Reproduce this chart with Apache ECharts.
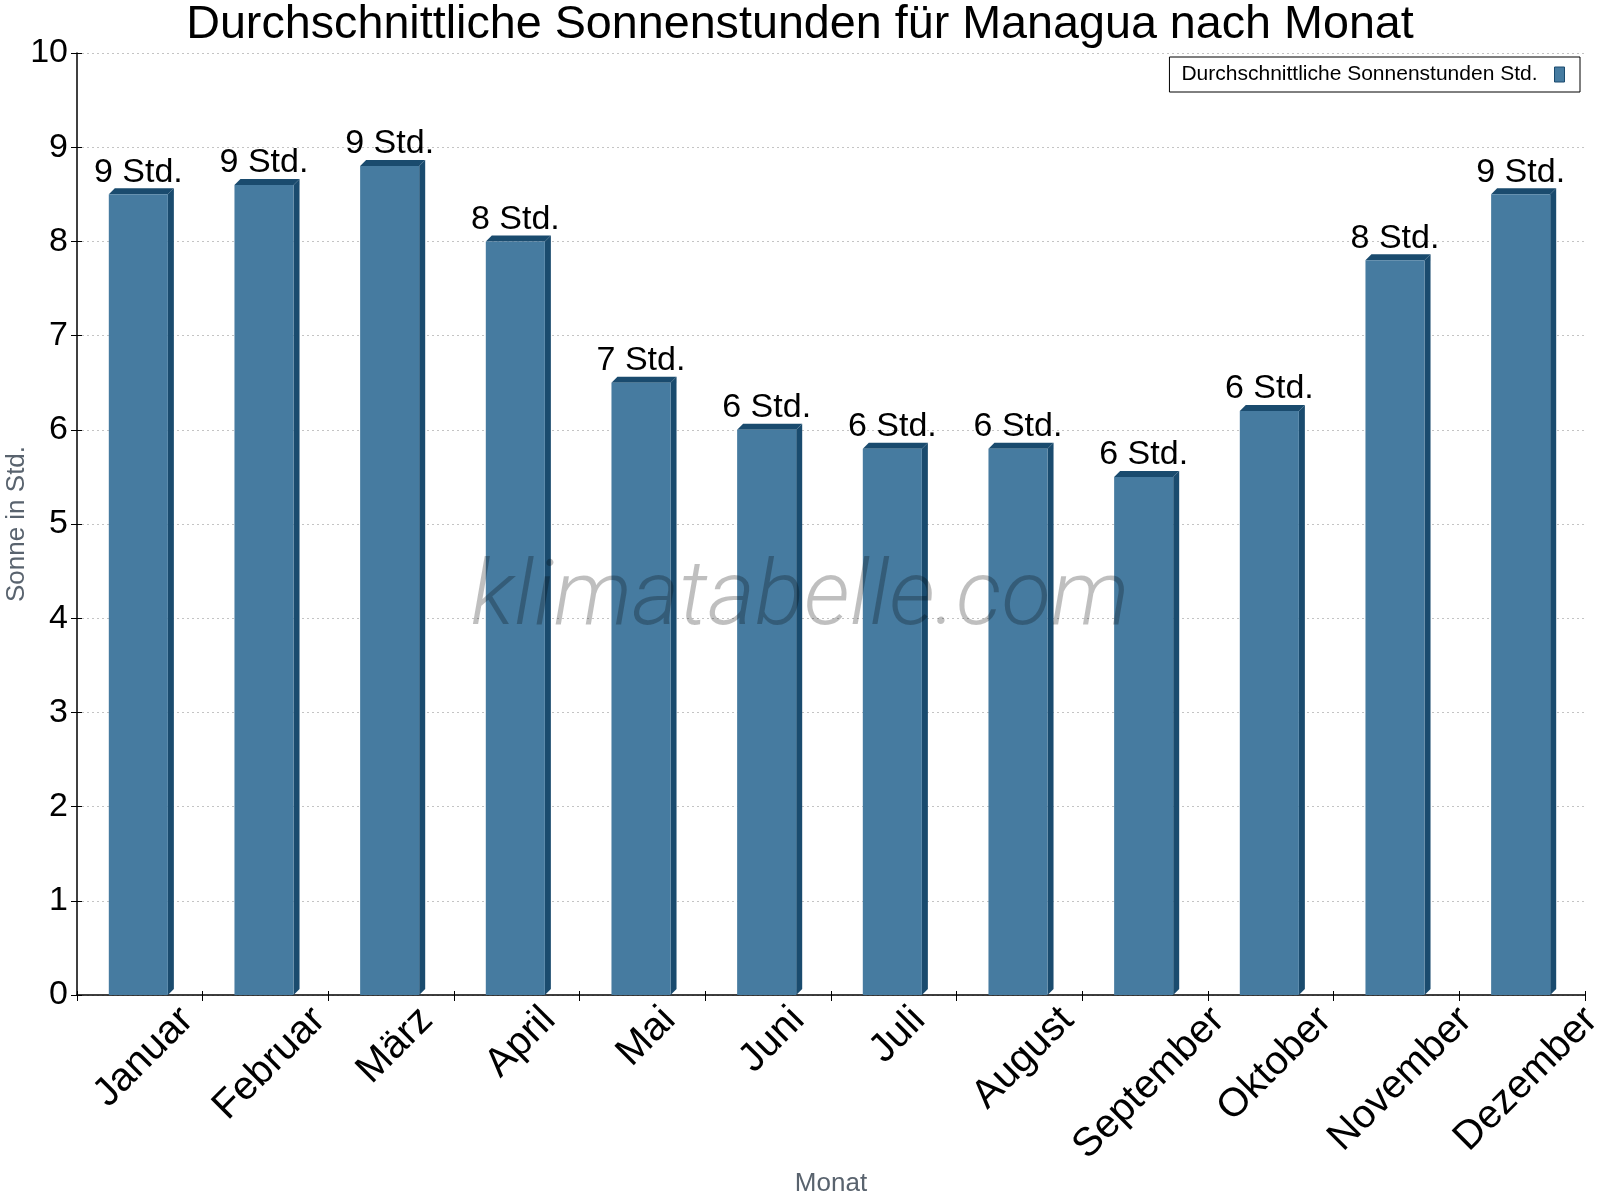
<!DOCTYPE html>
<html>
<head>
<meta charset="utf-8">
<script src="https://cdn.jsdelivr.net/npm/echarts@6/dist/echarts.min.js"></script>
<style>html,body{margin:0;padding:0;background:#fff}#c{width:1600px;height:1200px}</style>
</head>
<body>
<div id="c"></div>
<script>
var categories = ['Januar','Februar','März','April','Mai','Juni','Juli','August','September','Oktober','November','Dezember'];
var sunHours = [8.5, 8.6, 8.8, 8.0, 6.5, 6.0, 5.8, 5.8, 5.5, 6.2, 7.8, 8.5];
var yTicks = [0,1,2,3,4,5,6,7,8,9,10];
var seriesName = 'Durchschnittliche Sonnenstunden Std.';

var FONT = '"Liberation Sans", Arial, sans-serif';
var FRONT = '#467ba0', SIDE = '#1a4b6e', TOP = '#1a4b6e';
var XLABEL_FONT = '40px ' + FONT;

var measureCtx = document.createElement('canvas').getContext('2d');
function textWidth(t, font){ measureCtx.font = font; return measureCtx.measureText(t).width; }

var yMin = yTicks[0], yMax = yTicks[yTicks.length-1];

var chart = echarts.init(document.getElementById('c'), null, {renderer:'canvas'});
chart.setOption({
  animation: false,
  backgroundColor: '#fff',
  title: {
    text: 'Durchschnittliche Sonnenstunden für Managua nach Monat',
    left: 'center', top: -3,
    textStyle: {fontFamily: FONT, fontSize: 46.7, fontWeight: 'normal', color: '#000'}
  },
  legend: {
    right: 20, top: 57,
    data: [{name: seriesName, icon: 'rect'}],
    align: 'right',
    itemWidth: 10, itemHeight: 15,
    borderColor: '#000', borderWidth: 1, borderRadius: 0,
    padding: [7, 15, 7, 12],
    textStyle: {fontFamily: FONT, fontSize: 21, color: '#000', padding: [0, 12, 0, 0]},
    itemStyle: {color: FRONT, borderColor: '#1a4b6e', borderWidth: 1}
  },
  grid: {left: 77, right: 15, top: 53, bottom: 205, containLabel: false, outerBoundsMode: 'none'},
  xAxis: [{
    type: 'category', data: categories,
    name: 'Monat', nameLocation: 'middle', nameGap: 176, nameMoveOverlap: false,
    nameTextStyle: {fontFamily: FONT, fontSize: 26, color: '#59636e'},
    axisLine: {lineStyle: {color: '#000', width: 1.5}},
    axisTick: {show: true, length: 6, lineStyle: {color: '#000'}},
    axisLabel: {show: false},
    splitLine: {show: false}
  }, {
    type: 'category', data: categories, position: 'bottom',
    axisLine: {show: false},
    axisTick: {show: true, inside: true, length: 4, lineStyle: {color: '#000'}},
    axisLabel: {show: false},
    splitLine: {show: false}
  }],
  yAxis: [{
    type: 'value', min: yMin, max: yMax, interval: 1,
    name: 'Sonne in Std.', nameLocation: 'middle', nameGap: 47, nameRotate: 90, nameMoveOverlap: false,
    nameTextStyle: {fontFamily: FONT, fontSize: 26, color: '#59636e'},
    axisLine: {show: true, lineStyle: {color: '#000', width: 1.5}},
    axisTick: {show: true, length: 6, lineStyle: {color: '#000'}},
    axisLabel: {fontFamily: FONT, fontSize: 34, color: '#000', margin: 9},
    splitLine: {show: true, lineStyle: {color: '#c4c4c4', type: [2, 3], width: 1}}
  }, {
    type: 'value', min: yMin, max: yMax, interval: 1, position: 'left',
    axisLine: {show: false},
    axisTick: {show: true, inside: true, length: 5, lineStyle: {color: '#000'}},
    axisLabel: {show: false},
    splitLine: {show: false}
  }],
  graphic: [{
    type: 'text', left: 'center', top: 556, z: 100,
    style: {text: 'klimatabelle.com', font: 'italic 300 91px Roboto, ' + FONT, fill: 'rgba(0,0,0,0.25)'}
  }],
  series: [{
    name: seriesName,
    type: 'custom',
    clip: false,
    itemStyle: {color: FRONT},
    data: sunHours.map(function(v, i){ return [i, v]; }),
    encode: {x: 0, y: 1},
    renderItem: function(params, api){
      var idx = api.value(0), val = api.value(1);
      var top = api.coord([idx, val]);
      var base = api.coord([idx, 0]);
      var cw = api.size([1, 0])[0];
      var bw = cw * 0.47;
      var d = 6;
      var x0 = top[0] - bw/2 - 1.5, x1 = x0 + bw;
      var yt = top[1], yb = base[1];
      var lbl = categories[idx];
      var L = textWidth(lbl, XLABEL_FONT);
      return {
        type: 'group',
        children: [
          {type: 'polygon', shape: {points: [[x1, yt], [x1 + d, yt - d], [x1 + d, yb - d], [x1, yb]]}, style: {fill: SIDE}},
          {type: 'polygon', shape: {points: [[x0, yt], [x0 + d, yt - d], [x1 + d, yt - d], [x1, yt]]}, style: {fill: TOP}},
          {type: 'rect', shape: {x: x0, y: yt, width: bw, height: yb - yt}, style: {fill: FRONT}},
          {type: 'text', style: {text: Math.round(val) + ' Std.', x: (x0 + x1)/2, y: yt - d + 1,
            align: 'center', verticalAlign: 'bottom', font: '34px ' + FONT, fill: '#000'}},
          {type: 'text', x: base[0] + 4, y: yb + 19 + 0.354 * L, rotation: Math.PI / 4,
            style: {text: lbl, x: 0, y: 0, align: 'center', verticalAlign: 'middle', font: XLABEL_FONT, fill: '#000'}}
        ]
      };
    }
  }]
});
</script>
</body>
</html>
